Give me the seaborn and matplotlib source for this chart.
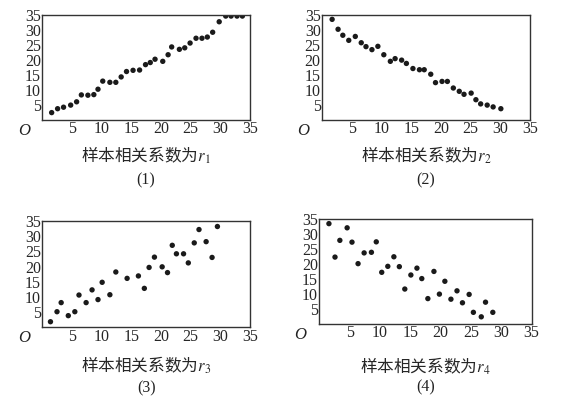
import numpy as np
import pandas as pd
import matplotlib
matplotlib.use("Agg")
import matplotlib.pyplot as plt
import seaborn as sns

# values
x1 = [1.6, 2.6, 3.6, 4.8, 5.8, 6.6, 7.7, 8.7, 9.4, 10.2, 11.4, 12.4, 13.3, 14.2, 15.3, 16.4, 17.4,
      18.2, 19.0, 20.3, 21.2, 21.8, 23.1, 24.0, 24.9, 25.9, 26.9, 27.8, 28.7, 29.8, 30.9, 31.8, 32.8, 33.7]
y1 = [2.5, 3.8, 4.3, 5.0, 6.1, 8.4, 8.3, 8.5, 10.3, 13.0, 12.6, 12.6, 14.4, 16.2, 16.6, 16.7, 18.5,
      19.2, 20.3, 19.6, 21.8, 24.4, 23.6, 24.1, 25.7, 27.3, 27.3, 27.7, 29.3, 32.8, 34.7, 34.7, 34.7, 34.7]

x2 = [1.7, 2.7, 3.5, 4.5, 5.6, 6.6, 7.4, 8.4, 9.4, 10.4, 11.5, 12.3, 13.4, 14.2, 15.3, 16.4, 17.2,
      18.3, 19.1, 20.2, 21.1, 22.1, 23.1, 23.9, 25.1, 25.9, 26.7, 27.8, 28.8, 30.1]
y2 = [33.6, 30.3, 28.3, 26.6, 27.9, 25.8, 24.5, 23.5, 24.6, 21.8, 19.6, 20.5, 20.0, 18.9, 17.2, 16.8, 16.8,
      15.3, 12.5, 12.9, 12.9, 10.7, 9.6, 8.6, 9.0, 6.8, 5.4, 5.0, 4.4, 3.8]

x3 = [1.4, 2.5, 3.2, 4.4, 5.5, 6.2, 7.4, 8.4, 9.4, 10.1, 11.4, 12.4, 14.3, 16.2, 17.2, 18.0, 18.9,
      20.2, 21.1, 21.9, 22.6, 23.8, 24.6, 25.6, 26.4, 27.6, 28.6, 29.5]
y3 = [1.8, 5.1, 8.1, 3.8, 5.1, 10.6, 8.1, 12.3, 9.1, 14.8, 10.7, 18.2, 16.1, 16.9, 12.8, 19.7, 23.1,
      19.9, 18.0, 27.0, 24.2, 24.2, 21.2, 27.8, 32.2, 28.2, 23.0, 33.2]

x4 = [1.6, 2.6, 3.4, 4.6, 5.4, 6.4, 7.4, 8.6, 9.4, 10.3, 11.3, 12.3, 13.2, 14.1, 15.1, 16.1, 16.9,
      17.9, 18.9, 19.8, 20.7, 21.7, 22.7, 23.6, 24.7, 25.4, 26.7, 27.4, 28.6]
y4 = [33.6, 22.4, 28.0, 32.2, 27.4, 20.2, 23.8, 24.0, 27.5, 17.3, 19.3, 22.5, 19.2, 11.7, 16.4, 18.7, 15.2,
      8.5, 17.6, 10.0, 14.3, 8.3, 11.1, 7.1, 9.9, 3.9, 2.4, 7.3, 3.9]

ticks = [5, 10, 15, 20, 25, 30, 35]
panels = [(x1, y1, "1"), (x2, y2, "2"), (x3, y3, "3"), (x4, y4, "4")]

sns.set_style("white")
plt.rcParams["font.family"] = ["Liberation Serif", "Noto Sans CJK SC", "DejaVu Sans"]
plt.rcParams["mathtext.fontset"] = "stix"

fig = plt.figure(figsize=(5.62, 3.99), dpi=100)
# axes box, xlabel pad, y of the "(n)" caption (axes fraction)
layout = [
    ([0.075, 0.699, 0.370, 0.263], 5, -0.57),
    ([0.573, 0.699, 0.370, 0.263], 5, -0.57),
    ([0.075, 0.180, 0.370, 0.266], 7, -0.58),
    ([0.568, 0.188, 0.378, 0.262], 10, -0.61),
]

for (xs, ys, name), (box, pad, cap_y) in zip(panels, layout):
    ax = fig.add_axes(box)
    df = pd.DataFrame({"x": xs, "y": ys})
    sns.scatterplot(data=df, x="x", y="y", ax=ax, color="#1a1a1a", s=15,
                    edgecolor="none", legend=False)
    ax.set_xlim(0, 35)
    ax.set_ylim(0, 35)
    ax.set_xticks(ticks)
    ax.set_yticks(ticks)
    ax.tick_params(direction="in", length=2, width=0.8, labelsize=11.5, pad=1)
    for sp in ax.spines.values():
        sp.set_color("#333333")
        sp.set_linewidth(1.0)
    ax.set_xlabel("样本相关系数为$r_{" + name + "}$", fontsize=12,
                  family=["Noto Sans CJK SC", "DejaVu Sans"], labelpad=pad)
    ax.set_ylabel("")
    ax.text(-0.06, -0.03, "O", transform=ax.transAxes, ha="right", va="top",
            fontsize=12, style="italic", color="#222222")
    ax.text(0.5, cap_y, "(" + name + ")", transform=ax.transAxes, ha="center",
            va="center", fontsize=11.5, color="#222222")

fig.savefig("out.png", dpi=100)
